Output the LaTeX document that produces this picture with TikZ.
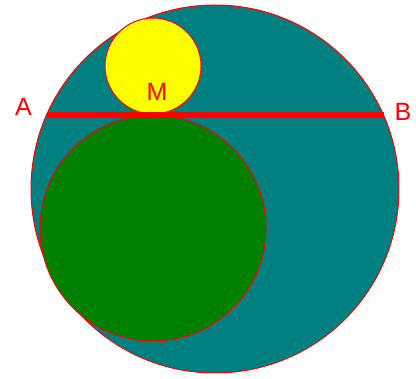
\documentclass[tikz,border=0pt]{standalone}
\usepackage{fontspec}
\setmainfont{Liberation Sans}
\usetikzlibrary{positioning}
\definecolor{discTeal}{HTML}{008080}
\definecolor{discGreen}{HTML}{008000}
\definecolor{discYellow}{HTML}{FFFF00}
\definecolor{lineRed}{HTML}{FF0000}
\tikzset{
  disc/.style={draw=lineRed, line width=1pt},
  chordline/.style={lineRed, line width=6pt},
  ptlabel/.style={text=lineRed, font=\fontsize{25}{25}\selectfont, inner sep=0pt},
}

\begin{document}
\begin{tikzpicture}[x=1pt, y=-1pt]
    \useasboundingbox (0,0) rectangle (416,379);
    % the three discs
    \filldraw[disc, fill=discTeal] (215,189) circle[radius=184];
    \filldraw[disc, fill=discYellow] (153,66) circle[radius=48];
    \filldraw[disc, fill=discGreen] (153,228) circle[radius=113];
    % chord and its points
    \coordinate (A) at (46.5,115);
    \coordinate (B) at (384,115);
    \coordinate (M) at (153,115);
    \draw[chordline] (A) -- (B);
    \node[ptlabel] (labA) at (23.5,107) {A};
    \node[ptlabel] (labB) at (403,112) {B};
    \node[ptlabel] (labM) at (157,92) {M};
\end{tikzpicture}
\end{document}
